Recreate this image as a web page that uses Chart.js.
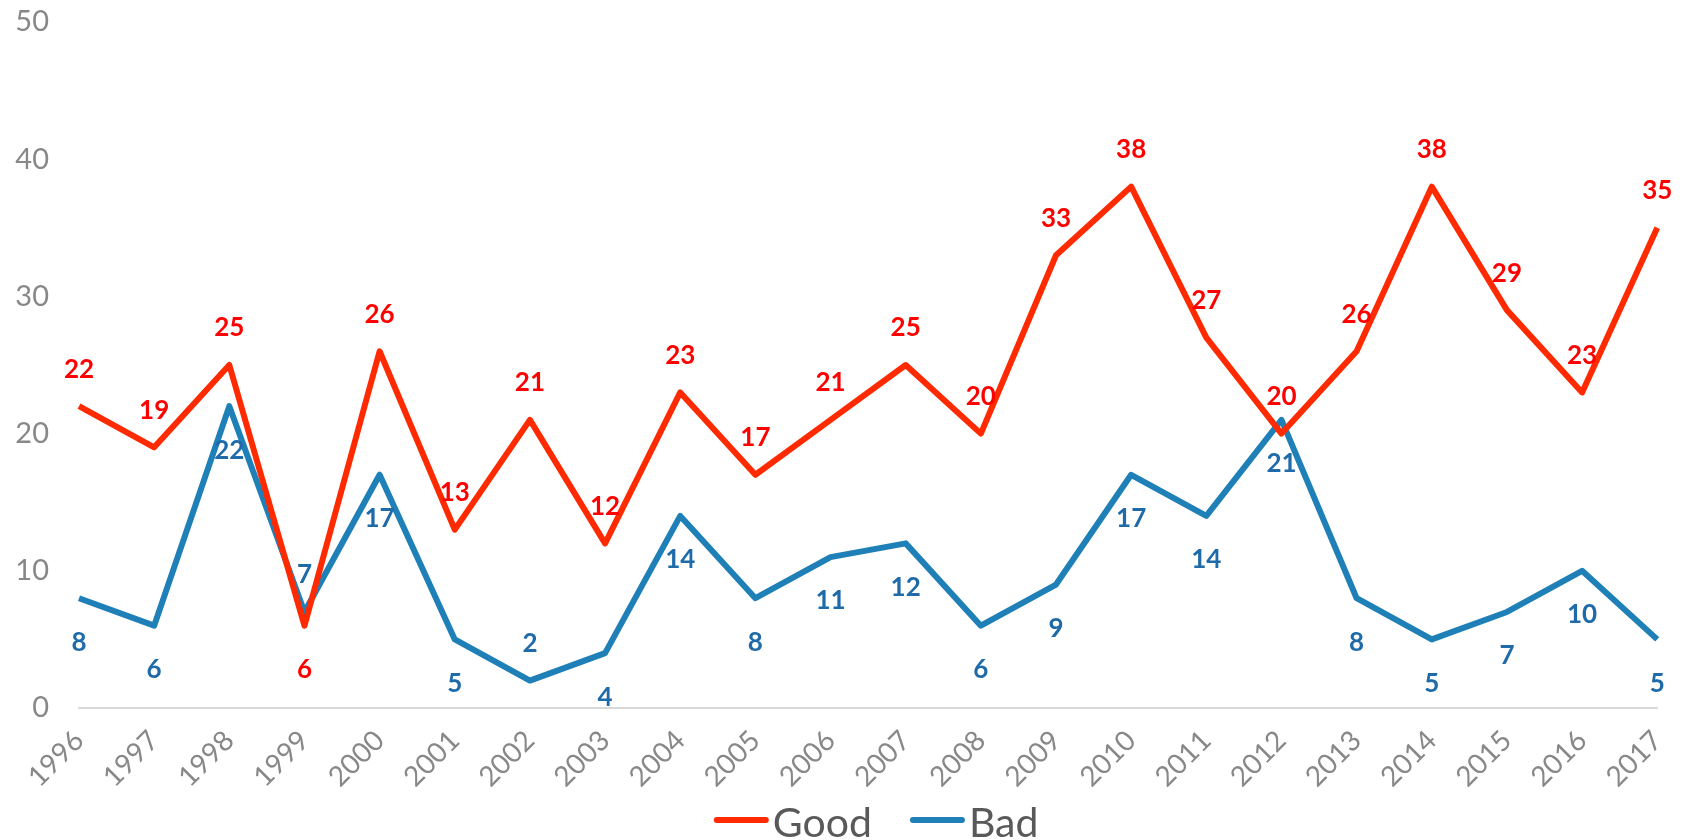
<!DOCTYPE html>
<html lang="en">
<head>
    <meta charset="UTF-8">
    <title>Good vs Bad</title>
    <script src="https://cdn.jsdelivr.net/npm/chart.js"></script>
    <style>
        html, body {
            margin: 0;
            padding: 0;
            background: #fff;
        }
        .wrap {
            width: 1697px;
            height: 840px;
        }
    </style>
</head>
<body>
    <div class="wrap"><canvas id="myChart"></canvas></div>
    <script>
        var years = ['1996', '1997', '1998', '1999', '2000', '2001', '2002', '2003', '2004', '2005', '2006',
                     '2007', '2008', '2009', '2010', '2011', '2012', '2013', '2014', '2015', '2016', '2017'];
        var good = [22, 19, 25, 6, 26, 13, 21, 12, 23, 17, 21, 25, 20, 33, 38, 27, 20, 26, 38, 29, 23, 35];
        var bad = [8, 6, 22, 7, 17, 5, 2, 4, 14, 8, 11, 12, 6, 9, 17, 14, 21, 8, 5, 7, 10, 5];

        // which labels sit on the other side of the line
        var goodFlip = [3];
        var badFlip = [3, 6];

        var FONT = 'Lato, "Open Sans", sans-serif';

        // value labels above/below each point
        var valueLabels = {
            id: 'valueLabels',
            afterDatasetsDraw: function(chart) {
                var ctx = chart.ctx;
                ctx.save();
                ctx.font = 'bold 26px ' + FONT;
                ctx.textAlign = 'center';
                ctx.textBaseline = 'middle';
                chart.data.datasets.forEach(function(ds, i) {
                    var meta = chart.getDatasetMeta(i);
                    ctx.fillStyle = ds.labelColor;
                    meta.data.forEach(function(pt, j) {
                        var below = ds.labelBelow;
                        if (ds.flip.indexOf(j) >= 0) below = !below;
                        var y = below ? pt.y + 44 : pt.y - 37;
                        ctx.fillText(ds.data[j], pt.x, y);
                    });
                });
                ctx.restore();
            }
        };

        // legend drawn under the axis labels
        var bottomLegend = {
            id: 'bottomLegend',
            afterDraw: function(chart) {
                var ctx = chart.ctx;
                var area = chart.chartArea;
                ctx.save();
                ctx.font = '41px ' + FONT;
                var lineLen = 55, gap = 4, between = 38;
                var items = chart.data.datasets.map(function(ds) {
                    return { text: ds.label, color: ds.borderColor, w: ctx.measureText(ds.label).width };
                });
                var total = 0;
                items.forEach(function(it, k) {
                    total += lineLen + gap + it.w + (k ? between : 0);
                });
                var x = (area.left + area.right) / 2 - total / 2 + 8;
                var y = 820;
                items.forEach(function(it) {
                    ctx.strokeStyle = it.color;
                    ctx.lineWidth = 6;
                    ctx.lineCap = 'round';
                    ctx.beginPath();
                    ctx.moveTo(x + 3, y);
                    ctx.lineTo(x + lineLen - 3, y);
                    ctx.stroke();
                    ctx.fillStyle = '#595959';
                    ctx.textAlign = 'left';
                    ctx.textBaseline = 'alphabetic';
                    ctx.fillText(it.text, x + lineLen + gap, y + 17);
                    x += lineLen + gap + it.w + between;
                });
                ctx.restore();
            }
        };

        var ctx = document.getElementById('myChart').getContext('2d');
        var myChart = new Chart(ctx, {
            type: 'line',
            data: {
                labels: years,
                datasets: [{
                    label: 'Good',
                    data: good,
                    borderColor: '#ff2a00',
                    backgroundColor: '#ff2a00',
                    labelColor: '#ff0000',
                    labelBelow: false,
                    flip: goodFlip,
                    borderWidth: 6,
                    pointRadius: 0,
                    tension: 0,
                    borderJoinStyle: 'round'
                }, {
                    label: 'Bad',
                    data: bad,
                    borderColor: '#1f80b8',
                    backgroundColor: '#1f80b8',
                    labelColor: '#1f6aa8',
                    labelBelow: true,
                    flip: badFlip,
                    borderWidth: 6,
                    pointRadius: 0,
                    tension: 0,
                    borderJoinStyle: 'round'
                }]
            },
            options: {
                responsive: true,
                maintainAspectRatio: false,
                animation: false,
                layout: {
                    padding: { top: 22, right: 26, bottom: 0, left: 0 }
                },
                plugins: {
                    legend: { display: false },
                    tooltip: { enabled: false }
                },
                scales: {
                    x: {
                        grid: { display: false, drawTicks: false },
                        border: { display: true, color: '#d9d9d9', width: 2 },
                        ticks: {
                            color: '#888888',
                            font: { family: FONT, size: 28 },
                            minRotation: 45,
                            maxRotation: 45,
                            padding: 16,
                            autoSkip: false
                        },
                        afterFit: function(scale) { scale.height = 132; }
                    },
                    y: {
                        min: 0,
                        max: 50,
                        grid: { display: false, drawTicks: false },
                        border: { display: false },
                        ticks: {
                            stepSize: 10,
                            color: '#888888',
                            font: { family: FONT, size: 29 },
                            padding: 30
                        },
                        afterFit: function(scale) {
                            scale.width = 79;
                            scale.paddingTop = 0;
                            scale.paddingBottom = 0;
                        }
                    }
                }
            },
            plugins: [valueLabels, bottomLegend]
        });
    </script>
</body>
</html>
